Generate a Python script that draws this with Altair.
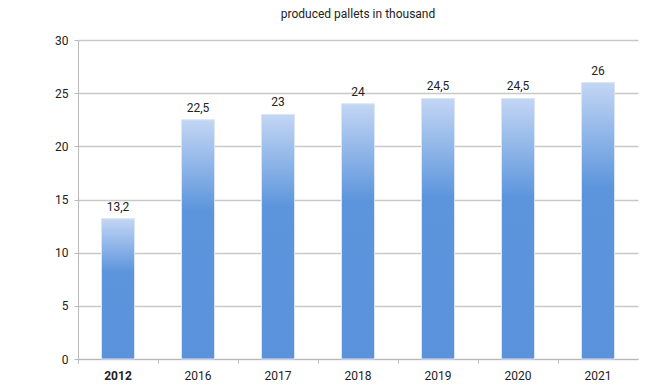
import altair as alt
import pandas as pd

years = ["2012", "2016", "2017", "2018", "2019", "2020", "2021"]
values = [13.2, 22.5, 23, 24, 24.5, 24.5, 26]
labels = ["13,2", "22,5", "23", "24", "24,5", "24,5", "26"]

df = pd.DataFrame({"year": years, "value": values, "label": labels})

grad = {
    "gradient": "linear",
    "x1": 0, "y1": 0, "x2": 0, "y2": 1,
    "stops": [
        {"offset": 0, "color": "#c3d6f4"},
        {"offset": 0.38, "color": "#5c95dc"},
        {"offset": 1, "color": "#5a93db"},
    ],
}

x = alt.X("year:N", sort=years, title=None,
          scale=alt.Scale(paddingInner=0, paddingOuter=0),
          axis=alt.Axis(labelAngle=0, bandPosition=0, tickExtra=True,
                        domainColor="#b8b8b8", tickColor="#b8b8b8", tickSize=4,
                        labelFont="Roboto", labelFontSize=12, labelColor="#222",
                        labelPadding=7,
                        labelFontWeight=alt.condition(alt.datum.value == "2012",
                                                      alt.value("bold"), alt.value("normal"))))
y = alt.Y("value:Q", title=None,
          scale=alt.Scale(domain=[0, 30], nice=False),
          axis=alt.Axis(values=[0, 5, 10, 15, 20, 25, 30], gridColor="#c8c8c8", gridWidth=1.5,
                        domainColor="#b8b8b8", tickColor="#b8b8b8", tickSize=4,
                        labelFont="Roboto", labelFontSize=12, labelColor="#222",
                        labelPadding=6))

bars = alt.Chart(df).mark_bar(size=33, fill=grad, stroke="#dbe5f4", strokeWidth=1).encode(x=x, y=y)
text = alt.Chart(df).mark_text(dy=-12, font="Roboto", fontSize=12, color="#222").encode(
    x=alt.X("year:N", sort=years), y="value:Q", text="label:N")

chart = (bars + text).properties(
    width=560, height=319,
    title=alt.TitleParams("produced pallets in thousand", font="Roboto", fontSize=12,
                          fontWeight="normal", color="#222", offset=13, anchor="middle"),
    autosize=alt.AutoSizeParams(type="none"),
    padding={"left": 70, "top": 32, "right": 10, "bottom": 25},
).configure_view(stroke=None)

chart.save("out.html", embed_options={"renderer": "svg", "actions": False})
